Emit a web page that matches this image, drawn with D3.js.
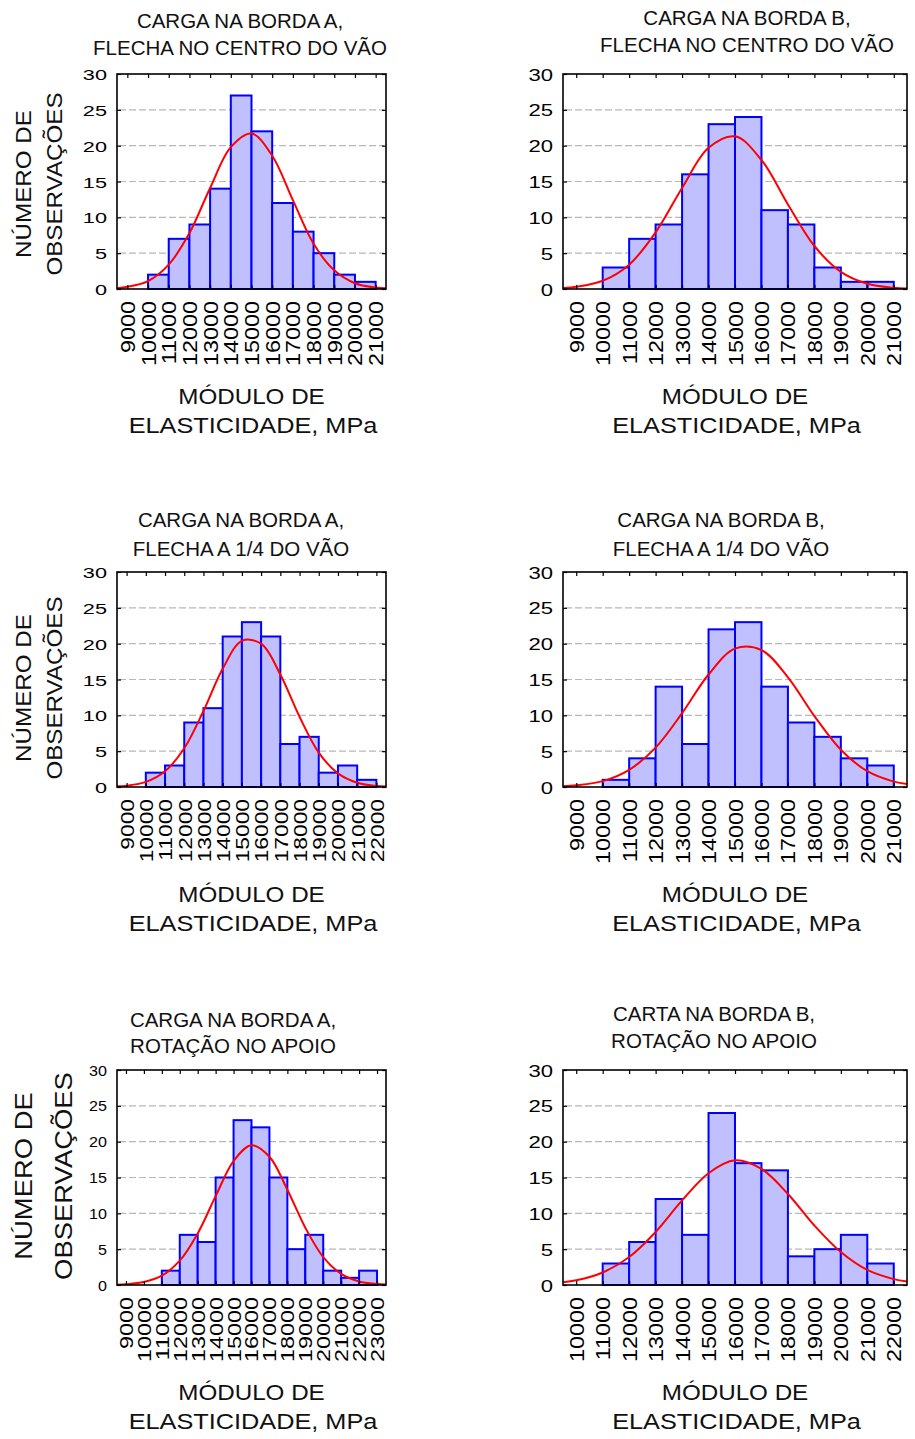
<!DOCTYPE html>
<html>
<head>
<meta charset="utf-8">
<script src="https://cdn.jsdelivr.net/npm/d3@7/dist/d3.min.js"></script>
<style>
  body { margin: 0; background: #fff; }
  svg { display: block; font-family: "Liberation Sans", Arial, Helvetica, sans-serif; }
</style>
</head>
<body>
<svg id="chart" width="915" height="1439"></svg>
<script>
// ---- data ----

// x tick labels (MPa), bars span tick[i] .. tick[i+1]
var ticks9to21 = [9000, 10000, 11000, 12000, 13000, 14000, 15000, 16000, 17000, 18000, 19000, 20000, 21000];
var ticks9to22 = [9000, 10000, 11000, 12000, 13000, 14000, 15000, 16000, 17000, 18000, 19000, 20000, 21000, 22000];
var ticks9to23 = [9000, 10000, 11000, 12000, 13000, 14000, 15000, 16000, 17000, 18000, 19000, 20000, 21000, 22000, 23000];
var ticks10to22 = [10000, 11000, 12000, 13000, 14000, 15000, 16000, 17000, 18000, 19000, 20000, 21000, 22000];

var yTicks = [0, 5, 10, 15, 20, 25, 30];

// observations per class
var countsBordaACentro = [0, 2, 7, 9, 14, 27, 22, 12, 8, 5, 2, 1];
var countsBordaBCentro = [0, 3, 7, 9, 16, 23, 24, 11, 9, 3, 1, 1];
var countsBordaAQuarto = [0, 2, 3, 9, 11, 21, 23, 21, 6, 7, 2, 3, 1];
var countsBordaBQuarto = [0, 1, 4, 14, 6, 22, 23, 14, 9, 7, 4, 3];
var countsBordaARotacao = [0, 0, 2, 7, 6, 15, 23, 22, 15, 5, 7, 2, 1, 2];
var countsBordaBRotacao = [0, 3, 6, 12, 7, 24, 17, 16, 4, 5, 7, 3];

// red fitted curve, read at axis start, every tick, axis end
var fitBordaACentro = [0.1, 0.3, 1.1, 3.4, 7.8, 14.1, 19.8, 21.7, 18.6, 12.4, 6.3, 2.6, 0.8, 0.2, 0.1];
var fitBordaBCentro = [0.14, 0.3, 1.15, 3.4, 7.9, 14.1, 19.7, 21.3, 18.0, 11.8, 6.0, 2.4, 0.74, 0.18, 0.08];
var fitBordaAQuarto = [0.09, 0.18, 0.71, 2.2, 5.4, 10.6, 16.5, 20.4, 20.0, 15.7, 9.8, 4.8, 1.9, 0.6, 0.15, 0.07];
var fitBordaBQuarto = [0.11, 0.23, 0.82, 2.4, 5.5, 10.3, 15.7, 19.3, 19.1, 15.3, 9.9, 5.2, 2.2, 0.75, 0.41];
var fitBordaARotacao = [0.05, 0.1, 0.41, 1.3, 3.4, 7.2, 12.4, 17.3, 19.5, 17.9, 13.3, 8.0, 3.9, 1.56, 0.5, 0.13, 0.06];
var fitBordaBRotacao = [0.37, 0.65, 1.75, 3.9, 7.4, 11.8, 15.6, 17.4, 16.2, 12.7, 8.3, 4.6, 2.1, 0.82, 0.48];

var titleLine1 = ["CARGA NA BORDA A,", "CARGA NA BORDA B,", "CARGA NA BORDA A,", "CARGA NA BORDA B,", "CARGA NA BORDA A,", "CARTA NA BORDA B,"];
var titleLine2 = ["FLECHA NO CENTRO DO VÃO", "FLECHA NO CENTRO DO VÃO", "FLECHA A 1/4 DO VÃO", "FLECHA A 1/4 DO VÃO", "ROTAÇÃO NO APOIO", "ROTAÇÃO NO APOIO"];

var xTitle = ["MÓDULO DE", "ELASTICIDADE, MPa"];
var yTitle = ["NÚMERO DE", "OBSERVAÇÕES"];

// ---- panel layout ----
var panels = [
  { ticks: ticks9to21, domain: [8500, 21500], counts: countsBordaACentro, fit: fitBordaACentro,
    left: 117, right: 386, top: 74, bottom: 289, titleX: 240, titleY: [28, 55],
    yFont: 15.5, ySx: 1.4, xFont: 19.5, xSx: 1.2, yLab: { size: 22, sx: 1.1, x: [31, 62], cy: 184 } },
  { ticks: ticks9to21, domain: [8500, 21500], counts: countsBordaBCentro, fit: fitBordaBCentro,
    left: 563, right: 907, top: 74, bottom: 289, titleX: 747, titleY: [25, 52],
    yFont: 17, ySx: 1.3, xFont: 19.5, xSx: 1.2 },
  { ticks: ticks9to22, domain: [8500, 22500], counts: countsBordaAQuarto, fit: fitBordaAQuarto,
    left: 117, right: 386, top: 572, bottom: 787, titleX: 241, titleY: [527, 556],
    yFont: 15.5, ySx: 1.4, xFont: 19, xSx: 1.2, yLab: { size: 22, sx: 1.1, x: [31, 62], cy: 688 } },
  { ticks: ticks9to21, domain: [8500, 21500], counts: countsBordaBQuarto, fit: fitBordaBQuarto,
    left: 563, right: 907, top: 572, bottom: 787, titleX: 721, titleY: [527, 556],
    yFont: 17, ySx: 1.3, xFont: 19.5, xSx: 1.2 },
  { ticks: ticks9to23, domain: [8500, 23500], counts: countsBordaARotacao, fit: fitBordaARotacao,
    left: 117, right: 386, top: 1070, bottom: 1285, titleX: 233, titleY: [1027, 1053],
    yFont: 14, ySx: 1.15, xFont: 18, xSx: 1.3, yLab: { size: 24.5, sx: 1.12, x: [32, 72], cy: 1176 } },
  { ticks: ticks10to22, domain: [9500, 22500], counts: countsBordaBRotacao, fit: fitBordaBRotacao,
    left: 563, right: 907, top: 1070, bottom: 1285, titleX: 714, titleY: [1021, 1048],
    yFont: 17, ySx: 1.3, xFont: 19.5, xSx: 1.2 }
];

var svg = d3.select("#chart");
svg.append("rect").attr("width", 915).attr("height", 1439).attr("fill", "#fff");

function drawPanel(p, i) {
  var g = svg.append("g");
  var x = d3.scaleLinear().domain(p.domain).range([p.left, p.right]);
  var y = d3.scaleLinear().domain([0, 30]).range([p.bottom, p.top]);
  var clipId = "clip" + i;

  g.append("clipPath").attr("id", clipId)
    .append("rect")
    .attr("x", p.left).attr("y", p.top)
    .attr("width", p.right - p.left).attr("height", p.bottom - p.top);

  // dashed grid
  g.selectAll("line.grid")
    .data(yTicks.filter(function (v) { return v > 0 && v < 30; }))
    .join("line")
    .attr("class", "grid")
    .attr("x1", p.left + 2).attr("x2", p.right - 2)
    .attr("y1", function (d) { return y(d); })
    .attr("y2", function (d) { return y(d); })
    .attr("stroke", "#b8b8b8")
    .attr("stroke-width", 1.2)
    .attr("stroke-dasharray", "7,3");

  // histogram bars
  var bins = p.counts.map(function (c, k) {
    return { x0: p.ticks[k], x1: p.ticks[k + 1], n: c };
  });
  g.append("g").selectAll("rect")
    .data(bins)
    .join("rect")
    .attr("x", function (d) { return x(d.x0); })
    .attr("width", function (d) { return x(d.x1) - x(d.x0); })
    .attr("y", function (d) { return y(d.n); })
    .attr("height", function (d) { return y(0) - y(d.n); })
    .attr("fill", "#c0c0ff")
    .attr("stroke", "#0000ff")
    .attr("stroke-width", 2);

  // fitted curve
  var xs = [p.domain[0]].concat(p.ticks, [p.domain[1]]);
  var pts = xs.map(function (v, k) { return [v, p.fit[k]]; });
  var line = d3.line()
    .x(function (d) { return x(d[0]); })
    .y(function (d) { return y(d[1]); })
    .curve(d3.curveCatmullRom.alpha(0.5));
  g.append("path")
    .datum(pts)
    .attr("clip-path", "url(#" + clipId + ")")
    .attr("d", line)
    .attr("fill", "none")
    .attr("stroke", "#ff0000")
    .attr("stroke-width", 2);

  // inward ticks on all four sides
  var axB = g.append("g").attr("transform", "translate(0," + p.bottom + ")")
    .call(d3.axisBottom(x).tickValues(p.ticks).tickSize(-4).tickFormat(d3.format("d")));
  var axT = g.append("g").attr("transform", "translate(0," + p.top + ")")
    .call(d3.axisTop(x).tickValues(p.ticks).tickSize(-4).tickFormat(""));
  var axL = g.append("g").attr("transform", "translate(" + p.left + ",0)")
    .call(d3.axisLeft(y).tickValues(yTicks).tickSize(-4));
  var axR = g.append("g").attr("transform", "translate(" + p.right + ",0)")
    .call(d3.axisRight(y).tickValues(yTicks).tickSize(-4).tickFormat(""));

  [axB, axT, axL, axR].forEach(function (a) {
    a.attr("font-family", null).attr("font-size", null);
    a.select(".domain").remove();
    a.selectAll(".tick line").attr("stroke", "#000").attr("stroke-width", 1.2);
  });

  axL.selectAll(".tick text")
    .attr("x", 0).attr("dy", "0.36em")
    .attr("fill", "#000")
    .attr("font-size", p.yFont)
    .attr("transform", "translate(-10,0) scale(" + p.ySx + ",1)");

  axB.selectAll(".tick text")
    .attr("x", 0).attr("y", 0).attr("dy", "0.36em")
    .attr("text-anchor", "end")
    .attr("fill", "#000")
    .attr("font-size", p.xFont)
    .attr("transform", "translate(0,12) rotate(-90) scale(" + p.xSx + ",1)");

  // frame
  g.append("rect")
    .attr("x", p.left).attr("y", p.top)
    .attr("width", p.right - p.left).attr("height", p.bottom - p.top)
    .attr("fill", "none").attr("stroke", "#000").attr("stroke-width", 1.6);

  // title
  [titleLine1[i], titleLine2[i]].forEach(function (t, k) {
    g.append("text")
      .attr("x", p.titleX).attr("y", p.titleY[k])
      .attr("text-anchor", "middle")
      .attr("font-size", 20.5)
      .attr("fill", "#111")
      .text(t);
  });

  // x axis title
  var cx = (p.left + p.right) / 2;
  xTitle.forEach(function (t, k) {
    g.append("text")
      .attr("text-anchor", "middle")
      .attr("font-size", 22)
      .attr("fill", "#111")
      .attr("transform", "translate(" + (cx + (k ? 1.5 : 0)) + "," + (p.bottom + 115 + k * 29) + ") scale(" + (k ? 1.15 : 1.1) + ",1)")
      .text(t);
  });

  // y axis title (left column only)
  if (p.yLab) {
    yTitle.forEach(function (t, k) {
      g.append("text")
        .attr("text-anchor", "middle")
        .attr("font-size", p.yLab.size)
        .attr("fill", "#111")
        .attr("transform", "translate(" + p.yLab.x[k] + "," + p.yLab.cy + ") rotate(-90) scale(" + p.yLab.sx + ",1)")
        .text(t);
    });
  }
}

panels.forEach(drawPanel);
console.log("panels drawn:", panels.length);
</script>
</body>
</html>
